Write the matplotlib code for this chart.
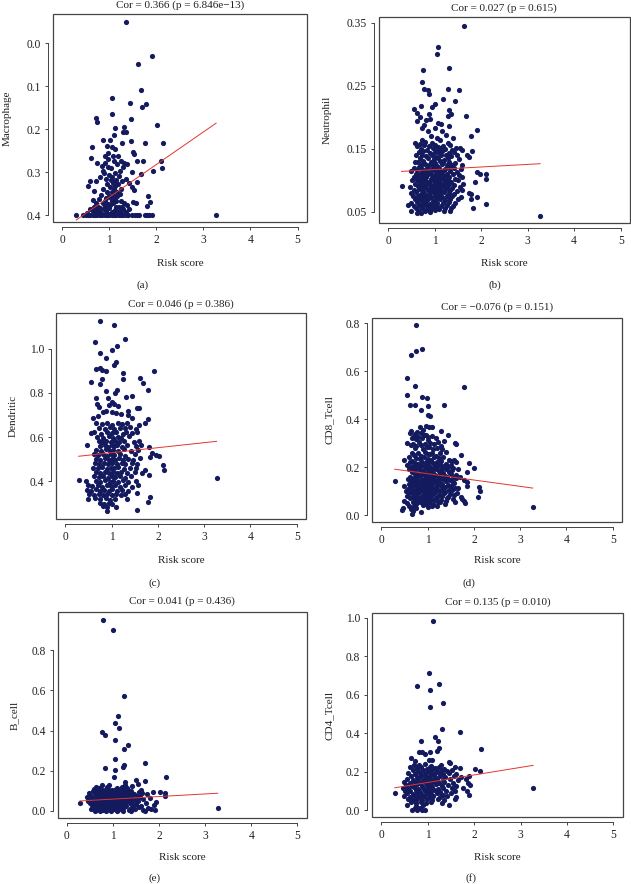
import matplotlib
matplotlib.use("Agg")
import matplotlib.pyplot as plt
from matplotlib.patches import Rectangle
import numpy as np

plt.rcParams['font.family'] = ['Liberation Serif', 'DejaVu Serif']

# ---------------- data ----------------
x_ticks = [0, 1, 2, 3, 4, 5]

# Macrophage (a)
a_pts = [
(1.35,-0.049),(1.905,0.029),(1.62,0.048),(1.68,0.109),(1.05,0.127),(1.45,0.138),(1.79,0.142),(1.70,0.148),
(1.06,0.164),(0.73,0.174),(0.75,0.182),(1.455,0.176),(1.12,0.196),(1.31,0.195),(1.30,0.206),(1.36,0.207),
(2.02,0.189),(1.11,0.213),(0.86,0.224),(1.02,0.224),(1.27,0.231),(1.455,0.228),(1.77,0.233),(2.15,0.233),
(0.64,0.241),(0.95,0.240),(1.06,0.242),(1.12,0.247),(0.98,0.256),(1.08,0.262),(1.50,0.254),(1.53,0.258),
(0.90,0.262),(1.18,0.262),(1.71,0.275),(1.58,0.275),(2.11,0.275),(2.12,0.291),(1.92,0.297),(0.62,0.268),
(0.75,0.278),(0.84,0.285),(0.91,0.279),(0.98,0.270),(1.10,0.274),(1.16,0.281),(1.25,0.273),(1.32,0.278),
(1.38,0.281),(1.30,0.287),(1.48,0.300),(1.68,0.303),(0.86,0.296),(1.22,0.297),(0.56,0.331),(0.68,0.344),
(0.60,0.321),(0.72,0.320),(0.80,0.310),(0.88,0.301),(0.93,0.315),(1.00,0.306),(1.05,0.311),(1.12,0.301),
(1.20,0.309),(1.28,0.321),(1.35,0.315),(1.42,0.326),(1.60,0.322),(1.83,0.355),(1.87,0.370),(1.51,0.369),
(1.57,0.372),(1.48,0.335),(1.52,0.341),(1.80,0.378),(0.66,0.365),(0.71,0.371),(0.77,0.381),(0.83,0.352),
(0.87,0.340),(0.95,0.346),(1.02,0.335),(1.08,0.324),(1.13,0.331),(1.17,0.345),(1.22,0.350),(1.26,0.366),
(1.32,0.371),(1.38,0.376),(1.43,0.386),(0.90,0.366),(0.97,0.373),(1.04,0.360),(1.10,0.356),(1.15,0.368),
(1.20,0.381),(0.60,0.386),(0.65,0.391),(0.74,0.388),(0.81,0.393),(0.88,0.385),(0.94,0.390),(1.00,0.384),
(1.06,0.392),(1.12,0.388),(1.18,0.392),(1.24,0.390),(1.30,0.385),(1.36,0.392),(0.52,0.395),(0.70,0.395),
(0.85,0.396),(0.99,0.396),(1.09,0.397),(1.21,0.396),(0.78,0.362),(1.06,0.345),(1.14,0.318),(1.18,0.328),
(1.04,0.290),(0.96,0.327),(1.00,0.355),(1.24,0.338),(0.92,0.378),(1.02,0.376),(1.08,0.372),(1.14,0.380),
(1.10,0.340),(1.16,0.356),(0.98,0.288),(1.04,0.318),(1.10,0.322),(1.06,0.368),(1.12,0.364),(0.86,0.372),
(0.80,0.384),(1.16,0.394),(1.28,0.380),(0.94,0.360),(0.76,0.392),(0.68,0.380),
(0.30,0.400),(0.45,0.400),(0.50,0.400),(0.55,0.400),(0.60,0.400),(0.65,0.400),(0.70,0.400),(0.75,0.400),
(0.80,0.400),(0.85,0.400),(0.90,0.400),(0.95,0.400),(1.00,0.400),(1.05,0.400),(1.10,0.400),(1.15,0.400),
(1.20,0.400),(1.25,0.400),(1.30,0.400),(1.35,0.400),(1.40,0.400),(1.48,0.400),(1.55,0.400),(1.60,0.400),
(1.63,0.400),(1.75,0.400),(1.80,0.400),(1.85,0.400),(1.90,0.400),(3.27,0.400),
]

# Neutrophil (b)
b_pts = [
(1.625,0.345),(1.065,0.312),(1.05,0.300),(0.75,0.276),(1.31,0.278),(0.74,0.256),(0.77,0.245),(0.86,0.243),
(0.89,0.238),(1.28,0.245),(1.52,0.243),(1.18,0.229),(1.45,0.226),(1.01,0.222),(0.95,0.216),(0.71,0.218),
(0.55,0.213),(0.63,0.207),(1.31,0.212),(1.36,0.205),(1.28,0.202),(1.67,0.203),(0.68,0.200),(0.88,0.205),
(0.62,0.195),(0.82,0.196),(0.91,0.197),(1.08,0.192),(1.13,0.190),(1.30,0.187),(1.92,0.180),(0.78,0.188),
(0.72,0.183),(0.85,0.178),(1.00,0.183),(1.15,0.178),(1.78,0.170),(0.92,0.170),(1.05,0.168),(1.12,0.165),
(1.40,0.168),(0.72,0.165),(0.58,0.160),(0.68,0.158),(0.80,0.161),(0.95,0.160),(1.25,0.172),(1.28,0.160),
(1.55,0.152),(1.58,0.148),(1.80,0.147),(1.70,0.140),(1.75,0.137),
(0.62,0.155),(0.78,0.157),(0.88,0.154),(1.02,0.156),(1.08,0.153),(1.18,0.155),(1.33,0.157),
(0.70,0.150),(0.84,0.148),(0.97,0.151),(1.05,0.149),(1.12,0.152),(1.22,0.150),(1.38,0.148),(1.46,0.151),
(0.66,0.145),(0.75,0.146),(0.90,0.143),(1.00,0.145),(1.10,0.144),(1.16,0.146),(1.30,0.144),(1.42,0.145),
(0.60,0.140),(0.72,0.141),(0.82,0.139),(0.95,0.140),(1.04,0.138),(1.14,0.141),(1.24,0.140),(1.35,0.139),(1.48,0.141),
(0.68,0.135),(0.86,0.136),(0.98,0.134),(1.08,0.135),(1.20,0.133),(1.28,0.136),(1.52,0.134),
(0.58,0.130),(0.64,0.129),(0.76,0.131),(0.92,0.130),(1.02,0.128),(1.12,0.131),(1.18,0.129),(1.32,0.130),(1.45,0.128),
(0.70,0.125),(0.80,0.126),(0.88,0.124),(0.96,0.125),(1.06,0.123),(1.16,0.126),(1.26,0.124),(1.38,0.125),(1.60,0.124),
(0.55,0.120),(0.66,0.121),(0.74,0.119),(0.84,0.120),(0.94,0.118),(1.00,0.121),(1.10,0.120),(1.22,0.119),(1.30,0.121),(1.42,0.120),(1.56,0.118),
(0.50,0.115),(0.62,0.116),(0.72,0.114),(0.82,0.115),(0.90,0.113),(0.98,0.116),(1.06,0.115),(1.14,0.114),(1.20,0.116),(1.34,0.115),(1.48,0.113),(1.92,0.113),
(0.60,0.110),(0.68,0.111),(0.78,0.109),(0.86,0.110),(0.95,0.108),(1.03,0.111),(1.12,0.110),(1.18,0.109),(1.26,0.111),(1.40,0.110),(1.52,0.108),(1.98,0.111),(2.11,0.110),
(0.56,0.105),(0.65,0.106),(0.74,0.104),(0.82,0.105),(0.92,0.103),(1.00,0.106),(1.08,0.105),(1.16,0.104),(1.24,0.106),(1.32,0.105),(1.44,0.103),(1.58,0.105),
(0.52,0.100),(0.62,0.101),(0.70,0.099),(0.80,0.100),(0.88,0.098),(0.96,0.101),(1.04,0.100),(1.10,0.099),(1.20,0.101),(1.28,0.100),(1.36,0.098),(1.50,0.100),(2.10,0.102),
(0.58,0.095),(0.68,0.096),(0.76,0.094),(0.84,0.095),(0.92,0.093),(1.00,0.096),(1.06,0.095),(1.14,0.094),(1.22,0.096),(1.30,0.095),(1.42,0.093),(1.62,0.095),(1.86,0.098),
(0.29,0.092),(0.48,0.090),(0.64,0.091),(0.72,0.089),(0.80,0.090),(0.90,0.088),(0.98,0.091),(1.04,0.090),(1.12,0.089),(1.18,0.091),(1.26,0.090),(1.38,0.088),(1.55,0.090),
(0.55,0.085),(0.66,0.086),(0.76,0.084),(0.86,0.085),(0.94,0.083),(1.02,0.086),(1.08,0.085),(1.16,0.084),(1.24,0.086),(1.34,0.085),(1.48,0.083),(1.60,0.085),
(0.50,0.080),(0.60,0.081),(0.70,0.079),(0.78,0.080),(0.88,0.078),(0.96,0.081),(1.04,0.080),(1.12,0.079),(1.20,0.081),(1.30,0.080),(1.42,0.078),(1.73,0.080),(1.78,0.078),
(0.54,0.075),(0.64,0.076),(0.74,0.074),(0.82,0.075),(0.92,0.073),(1.00,0.076),(1.08,0.075),(1.16,0.074),(1.26,0.076),(1.38,0.075),(1.56,0.073),(1.92,0.074),
(0.58,0.070),(0.68,0.071),(0.78,0.069),(0.86,0.070),(0.96,0.068),(1.04,0.071),(1.12,0.070),(1.22,0.069),(1.34,0.071),(1.50,0.070),(1.78,0.070),
(0.50,0.065),(0.62,0.066),(0.72,0.064),(0.82,0.065),(0.90,0.063),(0.98,0.066),(1.06,0.065),(1.18,0.064),(1.30,0.066),(1.45,0.065),
(0.44,0.061),(0.56,0.060),(0.66,0.061),(0.76,0.059),(0.86,0.060),(0.94,0.061),(1.04,0.059),(1.14,0.060),(1.26,0.061),(1.40,0.060),(2.10,0.062),
(0.60,0.056),(0.72,0.057),(0.84,0.055),(0.92,0.056),(1.02,0.057),(1.10,0.055),(1.22,0.056),(1.36,0.057),(1.82,0.057),
(0.50,0.052),(0.64,0.053),(0.80,0.051),(0.90,0.052),(1.00,0.053),(1.20,0.052),(1.34,0.051),
(0.62,0.048),(0.70,0.049),(0.90,0.050),
(3.27,0.043),
]

# Dendritic (c)
c_pts = [
(0.74,1.125),(1.06,1.107),(1.30,1.045),(0.64,1.030),(1.12,1.012),(1.02,0.995),(0.75,0.980),(0.88,0.958),
(1.10,0.940),(1.06,0.925),(0.66,0.910),(0.75,0.912),(0.79,0.905),(0.87,0.898),(1.91,0.899),(1.25,0.888),
(1.24,0.862),(0.56,0.850),(1.62,0.866),(1.67,0.845),(1.78,0.815),(0.75,0.840),(0.80,0.865),(0.88,0.810),
(1.08,0.800),(1.12,0.815),(1.32,0.780),(1.44,0.785),(0.66,0.775),(0.92,0.775),(1.00,0.760),(1.36,0.720),
(1.54,0.730),(1.60,0.730),(0.68,0.750),(0.72,0.735),(0.95,0.745),(1.05,0.750),(1.14,0.740),(0.82,0.715),
(0.88,0.720),(1.00,0.715),(1.10,0.710),(1.20,0.705),(0.70,0.695),(0.60,0.685),(1.45,0.685),(1.78,0.680),
(1.72,0.665),(1.36,0.700),
(0.66,0.662),(0.80,0.658),(0.90,0.664),(1.02,0.656),(1.14,0.662),(1.22,0.660),(1.34,0.665),(1.60,0.655),
(0.72,0.642),(0.86,0.638),(0.96,0.645),(1.06,0.636),(1.18,0.642),(1.28,0.640),(1.40,0.645),(1.52,0.636),
(0.56,0.618),(0.62,0.622),(0.78,0.616),(0.90,0.624),(1.00,0.618),(1.10,0.622),(1.24,0.616),(1.32,0.624),(1.45,0.618),(1.56,0.622),
(0.68,0.602),(0.82,0.596),(0.94,0.604),(1.04,0.598),(1.14,0.602),(1.20,0.596),(1.38,0.604),
(0.72,0.582),(0.80,0.576),(0.88,0.584),(0.98,0.578),(1.08,0.582),(1.16,0.576),(1.26,0.584),(1.48,0.578),(1.60,0.580),
(0.48,0.562),(0.74,0.558),(0.86,0.564),(0.92,0.556),(1.00,0.562),(1.06,0.558),(1.12,0.564),(1.22,0.556),(1.34,0.562),(1.52,0.558),(1.64,0.564),(1.80,0.556),
(0.66,0.542),(0.78,0.538),(0.88,0.544),(0.96,0.536),(1.04,0.542),(1.14,0.538),(1.26,0.544),(1.42,0.536),(1.58,0.542),
(0.62,0.522),(0.70,0.518),(0.82,0.524),(0.90,0.516),(0.98,0.522),(1.06,0.518),(1.18,0.524),(1.30,0.516),(1.50,0.522),(1.88,0.528),(1.95,0.520),(2.02,0.514),
(0.66,0.502),(0.76,0.498),(0.86,0.504),(0.94,0.496),(1.00,0.502),(1.08,0.498),(1.16,0.504),(1.24,0.496),(1.36,0.502),(1.46,0.498),(1.62,0.504),(1.84,0.508),
(0.64,0.482),(0.72,0.478),(0.84,0.484),(0.92,0.476),(1.02,0.482),(1.12,0.478),(1.22,0.484),(1.30,0.476),(1.44,0.482),(1.54,0.478),(2.11,0.475),
(0.60,0.462),(0.70,0.458),(0.80,0.464),(0.90,0.456),(0.98,0.462),(1.06,0.458),(1.14,0.464),(1.26,0.456),(1.40,0.462),(1.52,0.458),(1.72,0.450),
(0.66,0.442),(0.76,0.438),(0.86,0.444),(0.94,0.436),(1.04,0.442),(1.12,0.438),(1.20,0.444),(1.34,0.436),(1.50,0.442),(1.66,0.438),(2.14,0.450),
(0.62,0.422),(0.72,0.418),(0.82,0.424),(0.92,0.416),(1.00,0.422),(1.08,0.418),(1.18,0.424),(1.28,0.416),(1.42,0.422),(1.80,0.430),
(0.29,0.407),(0.44,0.400),(0.66,0.402),(0.76,0.398),(0.86,0.404),(0.96,0.396),(1.04,0.402),(1.14,0.398),(1.24,0.404),(1.36,0.396),(1.52,0.402),
(0.50,0.382),(0.58,0.378),(0.70,0.384),(0.80,0.376),(0.90,0.382),(0.98,0.378),(1.08,0.384),(1.18,0.376),(1.30,0.382),(1.44,0.372),(1.58,0.384),
(0.48,0.362),(0.56,0.358),(0.66,0.364),(0.74,0.356),(0.84,0.362),(0.94,0.358),(1.02,0.364),(1.12,0.356),(1.22,0.362),(1.36,0.358),
(0.52,0.342),(0.62,0.338),(0.72,0.344),(0.82,0.336),(0.90,0.342),(1.00,0.338),(1.10,0.344),(1.20,0.336),(1.30,0.342),(1.55,0.346),
(0.50,0.322),(0.64,0.326),(0.76,0.318),(0.88,0.324),(0.96,0.316),(1.08,0.322),(1.34,0.318),(1.82,0.328),
(0.74,0.302),(0.84,0.298),(0.94,0.304),(1.00,0.296),(1.78,0.308),
(0.82,0.286),(0.90,0.282),(1.10,0.285),
(0.90,0.264),(1.55,0.268),
(3.27,0.415),
]

# CD8_Tcell (d)
d_pts = [
(0.74,0.793),(0.65,0.670),(0.745,0.685),(0.875,0.695),(0.55,0.571),(0.725,0.538),(1.78,0.534),(0.55,0.503),
(0.88,0.494),(0.99,0.490),(0.63,0.459),(0.73,0.459),(1.00,0.456),(1.35,0.462),(0.85,0.441),(1.02,0.420),
(1.05,0.413),(0.83,0.370),(0.96,0.372),(1.04,0.370),(1.10,0.370),
(0.64,0.352),(0.78,0.348),(0.90,0.354),(1.30,0.350),
(0.62,0.342),(0.72,0.338),(0.86,0.344),(0.96,0.336),(1.44,0.334),
(0.70,0.332),(0.80,0.328),(0.92,0.334),(1.02,0.326),(1.10,0.330),
(0.66,0.322),(0.76,0.318),(0.88,0.324),(1.00,0.316),(1.18,0.322),(1.36,0.310),
(0.56,0.302),(0.68,0.298),(0.82,0.304),(0.94,0.296),(1.06,0.302),(1.14,0.298),(1.22,0.304),(1.60,0.302),(1.62,0.296),
(0.64,0.292),(0.74,0.288),(0.86,0.294),(0.98,0.286),(1.28,0.290),
(0.72,0.282),(0.90,0.278),(1.04,0.284),(1.12,0.276),(1.20,0.282),(1.32,0.278),
(0.66,0.262),(0.80,0.258),(0.94,0.264),(1.00,0.256),(1.10,0.262),(1.26,0.258),(1.40,0.264),
(0.70,0.252),(0.86,0.248),(1.06,0.254),(1.18,0.246),(1.72,0.250),
(0.60,0.242),(0.76,0.238),(0.92,0.244),(1.02,0.236),(1.14,0.242),(1.24,0.238),(1.34,0.244),
(0.50,0.232),(0.66,0.228),(0.84,0.234),(0.98,0.226),(1.08,0.232),(1.30,0.228),(1.46,0.232),(1.52,0.226),(1.58,0.230),
(0.62,0.222),(0.72,0.218),(0.88,0.224),(0.96,0.216),(1.04,0.222),(1.12,0.218),(1.20,0.224),(1.40,0.216),(1.62,0.222),(1.90,0.220),
(0.56,0.212),(0.68,0.208),(0.80,0.214),(0.92,0.206),(1.00,0.212),(1.16,0.208),(1.26,0.214),(1.36,0.206),(1.50,0.212),
(0.64,0.202),(0.74,0.198),(0.86,0.204),(0.96,0.196),(1.06,0.202),(1.14,0.198),(1.22,0.204),(1.32,0.196),(1.44,0.202),(1.56,0.198),(2.01,0.197),
(0.60,0.192),(0.70,0.188),(0.82,0.194),(0.90,0.186),(1.00,0.192),(1.10,0.188),(1.18,0.194),(1.28,0.186),(1.40,0.192),(1.52,0.188),(1.66,0.192),
(0.66,0.182),(0.76,0.178),(0.86,0.184),(0.94,0.176),(1.04,0.182),(1.12,0.178),(1.24,0.184),(1.34,0.176),(1.46,0.182),(1.86,0.180),
(0.72,0.172),(0.80,0.168),(0.90,0.174),(0.98,0.166),(1.06,0.172),(1.16,0.168),(1.26,0.174),(1.38,0.166),(1.50,0.172),(1.62,0.168),
(0.62,0.162),(0.70,0.158),(0.84,0.164),(0.94,0.156),(1.02,0.162),(1.10,0.158),(1.20,0.164),(1.30,0.156),(1.42,0.162),(1.56,0.158),(1.70,0.162),
(0.58,0.152),(0.66,0.148),(0.76,0.154),(0.88,0.146),(0.96,0.152),(1.04,0.148),(1.12,0.154),(1.22,0.146),(1.34,0.152),(1.48,0.148),(1.62,0.154),(1.78,0.146),
(0.29,0.144),(0.64,0.142),(0.72,0.138),(0.82,0.144),(0.92,0.136),(1.00,0.142),(1.08,0.138),(1.16,0.144),(1.26,0.136),(1.40,0.142),(1.54,0.138),(1.86,0.140),
(0.60,0.132),(0.68,0.128),(0.78,0.134),(0.86,0.126),(0.96,0.132),(1.04,0.128),(1.12,0.134),(1.20,0.126),(1.32,0.132),(1.44,0.128),(1.58,0.134),
(0.50,0.122),(0.62,0.118),(0.74,0.124),(0.84,0.116),(0.92,0.122),(1.00,0.118),(1.08,0.124),(1.18,0.116),(1.28,0.122),(1.38,0.118),(1.50,0.124),(1.66,0.116),(1.86,0.122),(2.12,0.118),
(0.58,0.112),(0.68,0.108),(0.78,0.114),(0.88,0.106),(0.96,0.112),(1.04,0.108),(1.12,0.114),(1.22,0.106),(1.34,0.112),(1.46,0.108),(1.60,0.114),
(0.54,0.102),(0.64,0.098),(0.74,0.104),(0.82,0.096),(0.92,0.102),(1.00,0.098),(1.08,0.104),(1.16,0.096),(1.26,0.102),(1.38,0.098),(1.52,0.104),(2.14,0.100),
(0.60,0.092),(0.70,0.088),(0.80,0.094),(0.90,0.086),(0.98,0.092),(1.06,0.088),(1.14,0.094),(1.24,0.086),(1.36,0.092),(1.48,0.088),(1.64,0.092),
(0.56,0.082),(0.66,0.078),(0.76,0.084),(0.86,0.076),(0.94,0.082),(1.02,0.078),(1.10,0.084),(1.20,0.076),(1.32,0.082),(1.44,0.078),(1.58,0.084),(1.72,0.078),(2.10,0.077),
(0.62,0.072),(0.72,0.068),(0.82,0.074),(0.92,0.066),(1.00,0.072),(1.08,0.068),(1.18,0.074),(1.30,0.066),(1.42,0.072),(1.56,0.068),(1.74,0.070),
(0.50,0.062),(0.68,0.058),(0.78,0.064),(0.88,0.056),(0.96,0.062),(1.04,0.058),(1.14,0.064),(1.26,0.056),(1.40,0.062),(1.60,0.058),(1.78,0.062),
(0.56,0.052),(0.74,0.048),(0.84,0.054),(0.94,0.046),(1.02,0.052),(1.12,0.048),(1.22,0.054),(1.38,0.046),(1.80,0.050),
(0.60,0.040),(0.70,0.038),(0.90,0.042),(1.00,0.036),(1.10,0.040),(1.20,0.038),
(0.48,0.030),(0.64,0.028),(0.76,0.032),
(0.44,0.022),(0.68,0.020),
(0.66,0.005),(0.86,0.015),
(3.27,0.035),
]

# B_cell (e)
e_pts = [
(0.79,0.954),(1.01,0.900),(1.24,0.572),(1.10,0.474),(1.05,0.440),(1.14,0.414),(0.76,0.395),(0.83,0.380),
(1.05,0.353),(1.32,0.327),(1.24,0.310),(1.05,0.260),(1.69,0.238),(1.21,0.220),(1.23,0.227),(0.83,0.213),
(1.04,0.202),(1.03,0.170),(2.14,0.167),(1.49,0.153),(1.70,0.148),(1.27,0.145),(1.55,0.135),(0.92,0.128),
(1.42,0.125),(1.26,0.130),(0.76,0.128),
(0.62,0.116),(0.70,0.114),(0.86,0.117),(1.08,0.113),(1.20,0.116),(1.30,0.114),
(0.58,0.106),(0.66,0.104),(0.74,0.107),(0.82,0.103),(0.90,0.106),(0.98,0.104),(1.06,0.107),(1.14,0.103),(1.22,0.106),(1.32,0.104),(1.60,0.105),
(0.56,0.096),(0.64,0.094),(0.72,0.097),(0.80,0.093),(0.88,0.096),(0.96,0.094),(1.04,0.097),(1.12,0.093),(1.20,0.096),(1.28,0.094),(1.38,0.097),(1.56,0.093),(1.86,0.091),(2.01,0.092),(2.13,0.090),
(0.48,0.086),(0.60,0.084),(0.68,0.087),(0.76,0.083),(0.84,0.086),(0.92,0.084),(1.00,0.087),(1.08,0.083),(1.16,0.086),(1.24,0.084),(1.34,0.087),(1.46,0.083),(1.62,0.086),(1.74,0.084),
(0.50,0.076),(0.62,0.074),(0.70,0.077),(0.78,0.073),(0.86,0.076),(0.94,0.074),(1.02,0.077),(1.10,0.073),(1.18,0.076),(1.26,0.074),(1.36,0.077),(1.52,0.073),(2.13,0.073),
(0.44,0.066),(0.56,0.064),(0.64,0.067),(0.72,0.063),(0.80,0.066),(0.88,0.064),(0.96,0.067),(1.04,0.063),(1.12,0.066),(1.20,0.064),(1.30,0.067),(1.42,0.063),(1.58,0.066),(1.80,0.064),
(0.52,0.056),(0.60,0.054),(0.68,0.057),(0.76,0.053),(0.84,0.056),(0.92,0.054),(1.00,0.057),(1.08,0.053),(1.16,0.056),(1.24,0.054),(1.34,0.057),(1.48,0.053),(1.66,0.056),
(0.46,0.046),(0.56,0.044),(0.64,0.047),(0.72,0.043),(0.80,0.046),(0.88,0.044),(0.96,0.047),(1.04,0.043),(1.12,0.046),(1.20,0.044),(1.30,0.047),(1.40,0.043),(1.54,0.046),(1.93,0.045),
(0.28,0.037),(0.50,0.036),(0.60,0.034),(0.68,0.037),(0.76,0.033),(0.84,0.036),(0.92,0.034),(1.00,0.037),(1.08,0.033),(1.16,0.036),(1.26,0.034),(1.36,0.037),(1.50,0.033),(1.72,0.036),
(0.54,0.026),(0.62,0.024),(0.70,0.027),(0.78,0.023),(0.86,0.026),(0.94,0.024),(1.02,0.027),(1.10,0.023),(1.18,0.026),(1.28,0.024),(1.44,0.027),(1.60,0.023),(1.89,0.028),
(0.58,0.016),(0.66,0.014),(0.74,0.017),(0.82,0.013),(0.90,0.016),(0.98,0.014),(1.06,0.017),(1.14,0.013),(1.24,0.016),(1.38,0.014),(1.56,0.017),(1.76,0.013),
(0.52,0.006),(0.62,0.004),(0.70,0.007),(0.78,0.003),(0.86,0.006),(0.94,0.004),(1.02,0.007),(1.10,0.003),(1.20,0.006),(1.34,0.004),(1.48,0.007),(1.64,0.003),(1.82,0.006),(1.90,0.002),
(0.60,0.000),(0.72,0.000),(0.84,0.000),(0.96,0.000),(1.08,0.000),(1.22,0.000),(1.40,0.000),(1.70,0.000),
(3.27,0.015),
]

# CD4_Tcell (f)
f_pts = [
(1.11,0.984),(1.02,0.714),(0.77,0.646),(1.24,0.657),(1.06,0.627),(1.06,0.536),(1.33,0.555),(1.31,0.423),
(1.70,0.408),(1.15,0.378),(1.22,0.362),(0.85,0.358),(2.15,0.316),(1.24,0.322),(1.20,0.310),(0.88,0.300),
(0.82,0.300),(1.04,0.300),(1.10,0.262),(0.94,0.290),(0.65,0.270),(1.45,0.250),(1.48,0.243),(0.72,0.255),(1.02,0.260),
(0.70,0.237),(0.82,0.233),(0.94,0.238),(1.08,0.232),(1.28,0.236),
(0.62,0.222),(0.76,0.218),(0.86,0.224),(0.98,0.216),(1.06,0.222),(1.16,0.218),(1.24,0.224),(1.36,0.216),(1.58,0.222),(1.70,0.218),(2.02,0.216),
(0.68,0.207),(0.80,0.203),(0.90,0.209),(1.00,0.201),(1.10,0.207),(1.20,0.203),(1.30,0.209),(1.42,0.201),(1.52,0.207),(2.12,0.205),
(0.58,0.192),(0.72,0.188),(0.84,0.194),(0.94,0.186),(1.04,0.192),(1.14,0.188),(1.24,0.194),(1.34,0.186),(1.46,0.192),(1.62,0.188),(1.90,0.180),
(0.64,0.177),(0.76,0.173),(0.86,0.179),(0.96,0.171),(1.06,0.177),(1.16,0.173),(1.26,0.179),(1.38,0.171),(1.56,0.177),(1.72,0.173),
(0.56,0.162),(0.68,0.158),(0.80,0.164),(0.90,0.156),(1.00,0.162),(1.10,0.158),(1.20,0.164),(1.32,0.156),(1.48,0.162),(1.66,0.158),(1.82,0.162),
(0.50,0.147),(0.62,0.143),(0.72,0.149),(0.84,0.141),(0.94,0.147),(1.04,0.143),(1.14,0.149),(1.24,0.141),(1.36,0.147),(1.54,0.143),(1.86,0.140),
(0.54,0.132),(0.66,0.128),(0.76,0.134),(0.88,0.126),(0.98,0.132),(1.08,0.128),(1.18,0.134),(1.30,0.126),(1.44,0.132),(1.60,0.128),(1.92,0.132),
(0.46,0.117),(0.58,0.113),(0.70,0.119),(0.80,0.111),(0.90,0.117),(1.00,0.113),(1.10,0.119),(1.22,0.111),(1.34,0.117),(1.52,0.113),(1.76,0.117),
(0.52,0.102),(0.62,0.098),(0.74,0.104),(0.84,0.096),(0.94,0.102),(1.04,0.098),(1.14,0.104),(1.26,0.096),(1.40,0.102),(1.58,0.098),(1.84,0.100),
(0.29,0.087),(0.56,0.087),(0.68,0.083),(0.78,0.089),(0.88,0.081),(0.98,0.087),(1.08,0.083),(1.20,0.089),(1.34,0.081),(1.50,0.087),(1.88,0.080),
(0.50,0.072),(0.62,0.068),(0.72,0.074),(0.82,0.066),(0.92,0.072),(1.02,0.068),(1.12,0.074),(1.26,0.066),(1.42,0.072),(1.60,0.068),
(0.58,0.057),(0.68,0.053),(0.78,0.059),(0.88,0.051),(0.98,0.057),(1.10,0.053),(1.22,0.059),(1.36,0.051),(1.58,0.057),
(0.64,0.042),(0.74,0.038),(0.86,0.044),(0.96,0.036),(1.08,0.042),(1.30,0.038),
(0.56,0.027),(0.74,0.023),(0.90,0.027),(1.45,0.025),
(0.72,0.010),(0.84,0.012),
(0.66,0.000),(0.76,0.000),(0.88,0.000),(0.94,0.000),
(3.27,0.113),
]

# regression lines: value = intercept + slope * risk score
fit_intercept = [0.4337, 0.1132, 0.5066, 0.2004, 0.0449, 0.1050]
fit_slope = [-0.0758, 0.0041, 0.0227, -0.0264, 0.0129, 0.0391]

titles = ["Cor = 0.366 (p = 6.846e\u221213)", "Cor = 0.027 (p = 0.615)",
          "Cor = 0.046 (p = 0.386)", "Cor = \u22120.076 (p = 0.151)",
          "Cor = 0.041 (p = 0.436)", "Cor = 0.135 (p = 0.010)"]
ylabels = ["Macrophage", "Neutrophil", "Dendritic", "CD8_Tcell", "B_cell", "CD4_Tcell"]
letters = ["(a)", "(b)", "(c)", "(d)", "(e)", "(f)"]
yticks = [[0.0, 0.1, 0.2, 0.3, 0.4], [0.05, 0.15, 0.25, 0.35], [0.4, 0.6, 0.8, 1.0],
          [0.0, 0.2, 0.4, 0.6, 0.8], [0.0, 0.2, 0.4, 0.6, 0.8], [0.0, 0.2, 0.4, 0.6, 0.8, 1.0]]
ytick_fmt = ["{:.1f}", "{:.2f}", "{:.1f}", "{:.1f}", "{:.1f}", "{:.1f}"]
all_pts = [a_pts, b_pts, c_pts, d_pts, e_pts, f_pts]

# ---------------- layout (pixels) ----------------
W, H = 631, 884
# left, top, right, bottom of plot box
boxes = [(52.7, 14.0, 307.0, 221.7), (378.7, 16.7, 630.0, 223.3),
         (56.0, 313.3, 306.0, 519.3), (372.0, 318.3, 622.0, 521.7),
         (57.7, 611.7, 306.7, 818.3), (372.0, 613.3, 622.7, 817.3)]
ylims = [(0.415, -0.068), (0.032, 0.360), (0.228, 1.160), (-0.026, 0.821), (-0.038, 0.993), (-0.037, 1.023)]
title_y = [5.5, 7.7, 304.3, 306.7, 601.0, 601.7]
xlabel_y = [263.0, 263.0, 560.7, 560.7, 857.3, 857.3]
letter_xy = [(143, 285), (495, 285), (155, 582.7), (469, 582.7), (155, 878.3), (471, 878.3)]
ylabel_x = [7.5, 327.0, 13.3, 329.3, 14.0, 329.3]

dot_color = "#141a5e"
line_color = "#e3342f"
frame_color = "#444444"
fs = 8.0

fig = plt.figure(figsize=(W / 100, H / 100), dpi=100)

for i in range(6):
    l, t, r, b = boxes[i]
    ax = fig.add_axes([l / W, 1 - b / H, (r - l) / W, (b - t) / H])
    pts = np.array(all_pts[i])
    xs, ys = pts[:, 0], pts[:, 1]
    ax.scatter(xs, ys, s=14, color=dot_color, linewidths=0, zorder=3)
    xl = np.array([xs.min(), xs.max()])
    ax.plot(xl, fit_intercept[i] + fit_slope[i] * xl, color=line_color, lw=0.7, zorder=4)
    ax.set_xlim(-0.2, 5.2)
    ax.set_ylim(*ylims[i])
    ax.set_xticks(x_ticks)
    ax.set_xticklabels([str(v) for v in x_ticks])
    ax.set_yticks(yticks[i])
    ax.set_yticklabels([ytick_fmt[i].format(v) for v in yticks[i]])
    for s in ["top", "right"]:
        ax.spines[s].set_visible(False)
    ax.spines["bottom"].set_position(("outward", 3.5))
    ax.spines["left"].set_position(("outward", 3.5))
    ax.spines["bottom"].set_bounds(0, 5)
    ax.spines["left"].set_bounds(min(yticks[i]), max(yticks[i]))
    for s in ["bottom", "left"]:
        ax.spines[s].set_color(frame_color)
        ax.spines[s].set_linewidth(0.7)
    ax.add_patch(Rectangle((0, 0), 1, 1, transform=ax.transAxes, fill=False,
                           edgecolor=frame_color, lw=0.9, zorder=5, clip_on=False))
    ax.tick_params(axis="both", length=2.5, width=0.7, color=frame_color,
                   labelsize=8.3, pad=2.5, labelcolor="#222222")
    ax.set_facecolor("white")

    cx = (l + r) / 2 / W
    fig.text(cx, 1 - title_y[i] / H, titles[i], ha="center", va="center", fontsize=fs, color="#222222")
    fig.text(cx, 1 - xlabel_y[i] / H, "Risk score", ha="center", va="center", fontsize=fs, color="#222222")
    fig.text(ylabel_x[i] / W, 1 - ((t + b) / 2) / H, ylabels[i], ha="center", va="center",
             rotation=90, fontsize=fs, color="#222222")
    fig.text(letter_xy[i][0] / W, 1 - letter_xy[i][1] / H, letters[i], ha="center", va="center",
             fontsize=fs, color="#222222")

fig.savefig("out.png", dpi=100, facecolor="white")
